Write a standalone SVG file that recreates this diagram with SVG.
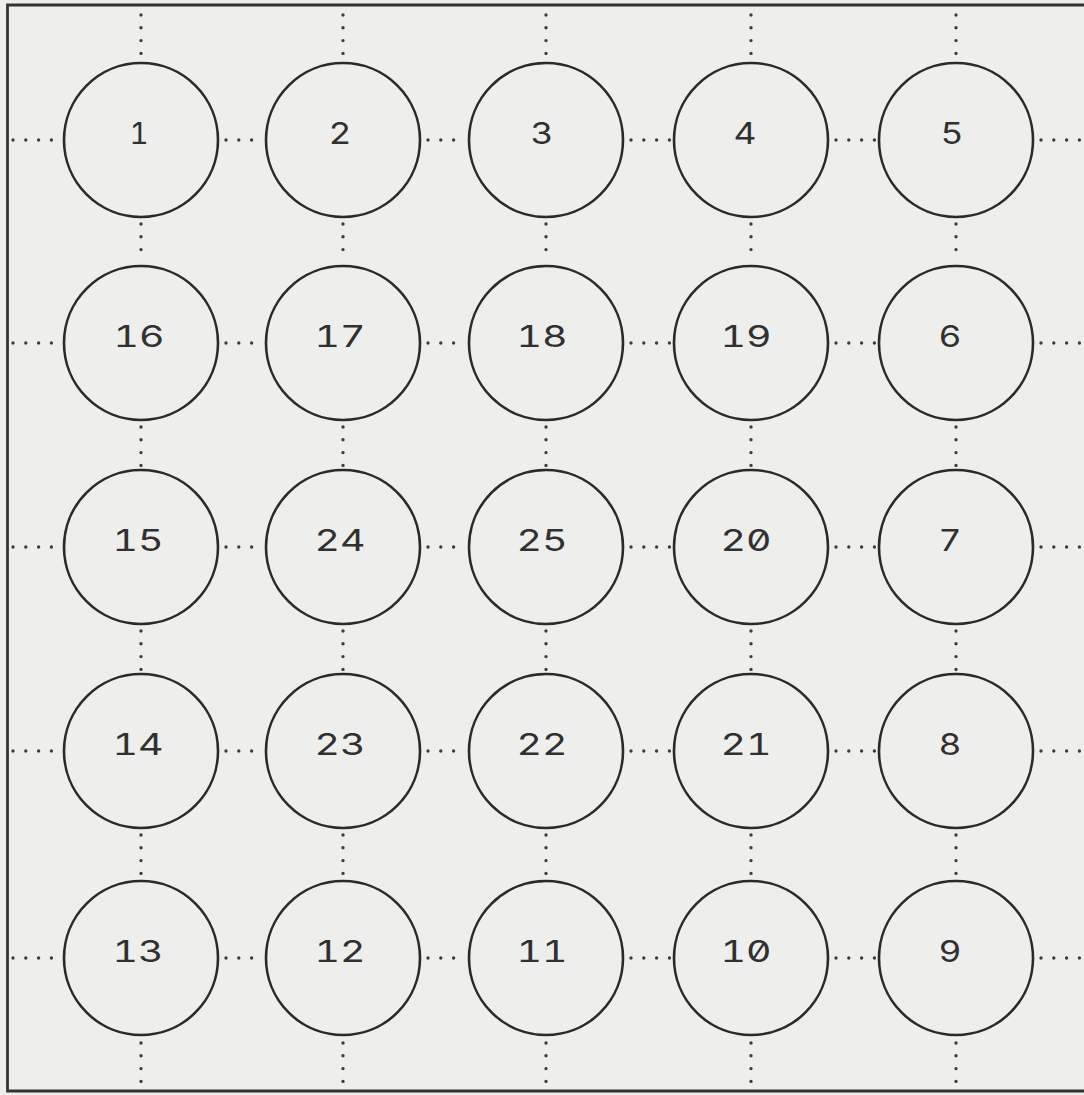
<svg xmlns="http://www.w3.org/2000/svg" width="1084" height="1095" viewBox="0 0 1084 1095">
<style>
.bg{fill:#eeeeec}
.border{stroke:#333;stroke-width:2.8;fill:none}
.node circle{fill:#eeeeec;stroke:#2a2a2a;stroke-width:2.6}
.node text{font-family:Inter,"DejaVu Sans",sans-serif;font-size:29.5px;font-weight:400;fill:#303030;text-anchor:middle;font-variant-numeric:slashed-zero tabular-nums;font-feature-settings:"zero" 1,"tnum" 1}
.dots path{stroke:#3c3c3c;stroke-width:3.4;stroke-linecap:round;stroke-dasharray:0 12.8;fill:none}
</style>
<rect class="bg" x="0" y="0" width="1084" height="1095"/>
<path class="border" d="M1084,5 H7.5 V1091 H1084"/>
<g id="connectors" class="dots">
<path d="M13,140 H60 M226,140 H262 M428,140 H465 M631,140 H670 M836,140 H875 M1041,140 H1084"/>
<path d="M13,343 H60 M226,343 H262 M428,343 H465 M631,343 H670 M836,343 H875 M1041,343 H1084"/>
<path d="M13,547 H60 M226,547 H262 M428,547 H465 M631,547 H670 M836,547 H875 M1041,547 H1084"/>
<path d="M13,751 H60 M226,751 H262 M428,751 H465 M631,751 H670 M836,751 H875 M1041,751 H1084"/>
<path d="M13,958 H60 M226,958 H262 M428,958 H465 M631,958 H670 M836,958 H875 M1041,958 H1084"/>
<path d="M141,15 V56 M141,224 V262 M141,427 V466 M141,631 V670 M141,835 V877 M141,1043 V1090"/>
<path d="M343,15 V56 M343,224 V262 M343,427 V466 M343,631 V670 M343,835 V877 M343,1043 V1090"/>
<path d="M546,15 V56 M546,224 V262 M546,427 V466 M546,631 V670 M546,835 V877 M546,1043 V1090"/>
<path d="M751,15 V56 M751,224 V262 M751,427 V466 M751,631 V670 M751,835 V877 M751,1043 V1090"/>
<path d="M956,15 V56 M956,224 V262 M956,427 V466 M956,631 V670 M956,835 V877 M956,1043 V1090"/>
</g>
<g id="n1" class="node"><circle cx="141" cy="140" r="77"/><text x="139" y="144">1</text></g>
<g id="n2" class="node"><circle cx="343" cy="140" r="77"/><text x="340" y="144" textLength="23" lengthAdjust="spacingAndGlyphs">2</text></g>
<g id="n3" class="node"><circle cx="546" cy="140" r="77"/><text x="542" y="144" textLength="23" lengthAdjust="spacingAndGlyphs">3</text></g>
<g id="n4" class="node"><circle cx="751" cy="140" r="77"/><text x="745" y="144" textLength="23" lengthAdjust="spacingAndGlyphs">4</text></g>
<g id="n5" class="node"><circle cx="956" cy="140" r="77"/><text x="952" y="144" textLength="23" lengthAdjust="spacingAndGlyphs">5</text></g>
<g id="n16" class="node"><circle cx="141" cy="343" r="77"/><text x="139" y="347" textLength="51" lengthAdjust="spacingAndGlyphs">16</text></g>
<g id="n17" class="node"><circle cx="343" cy="343" r="77"/><text x="340" y="347" textLength="51" lengthAdjust="spacingAndGlyphs">17</text></g>
<g id="n18" class="node"><circle cx="546" cy="343" r="77"/><text x="542" y="347" textLength="51" lengthAdjust="spacingAndGlyphs">18</text></g>
<g id="n19" class="node"><circle cx="751" cy="343" r="77"/><text x="746" y="347" textLength="51" lengthAdjust="spacingAndGlyphs">19</text></g>
<g id="n6" class="node"><circle cx="956" cy="343" r="77"/><text x="950" y="347" textLength="23" lengthAdjust="spacingAndGlyphs">6</text></g>
<g id="n15" class="node"><circle cx="141" cy="547" r="77"/><text x="138" y="551" textLength="51" lengthAdjust="spacingAndGlyphs">15</text></g>
<g id="n24" class="node"><circle cx="343" cy="547" r="77"/><text x="340" y="551" textLength="51" lengthAdjust="spacingAndGlyphs">24</text></g>
<g id="n25" class="node"><circle cx="546" cy="547" r="77"/><text x="542" y="551" textLength="51" lengthAdjust="spacingAndGlyphs">25</text></g>
<g id="n20" class="node"><circle cx="751" cy="547" r="77"/><text x="746" y="551" textLength="51" lengthAdjust="spacingAndGlyphs">20</text></g>
<g id="n7" class="node"><circle cx="956" cy="547" r="77"/><text x="950" y="551" textLength="23" lengthAdjust="spacingAndGlyphs">7</text></g>
<g id="n14" class="node"><circle cx="141" cy="751" r="77"/><text x="138" y="755" textLength="51" lengthAdjust="spacingAndGlyphs">14</text></g>
<g id="n23" class="node"><circle cx="343" cy="751" r="77"/><text x="340" y="755" textLength="51" lengthAdjust="spacingAndGlyphs">23</text></g>
<g id="n22" class="node"><circle cx="546" cy="751" r="77"/><text x="542" y="755" textLength="51" lengthAdjust="spacingAndGlyphs">22</text></g>
<g id="n21" class="node"><circle cx="751" cy="751" r="77"/><text x="746" y="755" textLength="51" lengthAdjust="spacingAndGlyphs">21</text></g>
<g id="n8" class="node"><circle cx="956" cy="751" r="77"/><text x="950" y="755" textLength="23" lengthAdjust="spacingAndGlyphs">8</text></g>
<g id="n13" class="node"><circle cx="141" cy="958" r="77"/><text x="138" y="962" textLength="51" lengthAdjust="spacingAndGlyphs">13</text></g>
<g id="n12" class="node"><circle cx="343" cy="958" r="77"/><text x="340" y="962" textLength="51" lengthAdjust="spacingAndGlyphs">12</text></g>
<g id="n11" class="node"><circle cx="546" cy="958" r="77"/><text x="542" y="962" textLength="51" lengthAdjust="spacingAndGlyphs">11</text></g>
<g id="n10" class="node"><circle cx="751" cy="958" r="77"/><text x="746" y="962" textLength="51" lengthAdjust="spacingAndGlyphs">10</text></g>
<g id="n9" class="node"><circle cx="956" cy="958" r="77"/><text x="950" y="962" textLength="23" lengthAdjust="spacingAndGlyphs">9</text></g>
</svg>
